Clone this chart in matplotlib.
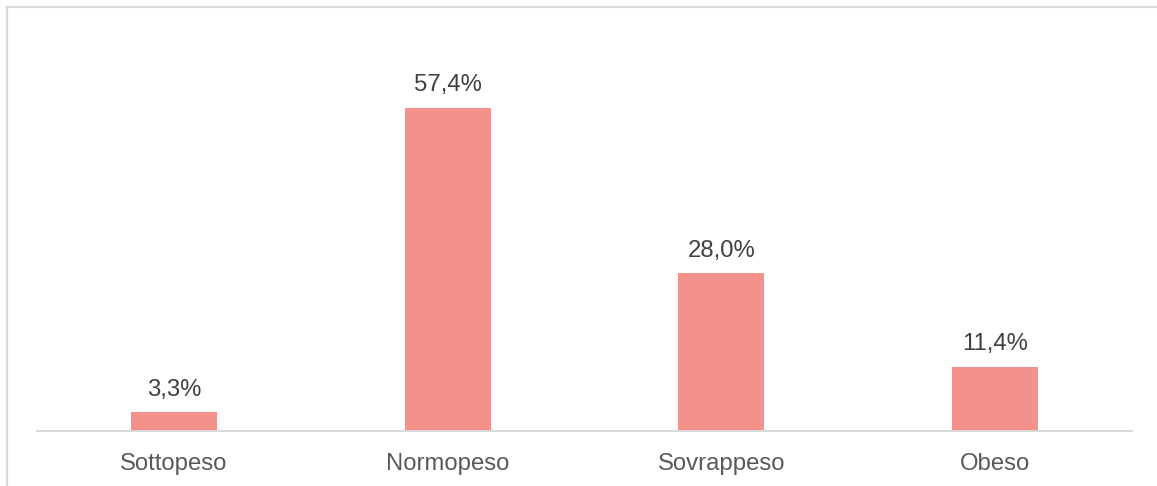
import matplotlib
import matplotlib.pyplot as plt
from matplotlib.lines import Line2D

matplotlib.use('Agg')
plt.rcParams['font.family'] = ['Liberation Sans', 'DejaVu Sans']

# BMI classes and share of people in each class (%)
categories = ['Sottopeso', 'Normopeso', 'Sovrappeso', 'Obeso']
values = [3.3, 57.4, 28.0, 11.4]

W, H = 1157, 486
fig = plt.figure(figsize=(W / 100, H / 100), dpi=100)
fig.patch.set_facecolor('white')

# chart-area frame, only its top and left edges fall inside the image
frame_kw = dict(color='#D9D9D9', linewidth=1.6, transform=fig.transFigure)
fig.add_artist(Line2D([7 / W, 1.01], [1 - 7 / H, 1 - 7 / H], **frame_kw))
fig.add_artist(Line2D([7 / W, 7 / W], [-0.01, 1 - 7 / H], **frame_kw))

ax = fig.add_axes([37 / W, 1 - 431 / H, (1132 - 37) / W, (431 - 37) / H])
x = range(len(categories))
bars = ax.bar(x, values, width=0.314, color='#F3918A', zorder=2)

ax.set_xlim(-0.5, len(categories) - 0.5)
ax.set_ylim(0, 70)
ax.set_yticks([])
ax.set_xticks(list(x))
ax.set_xticklabels(categories, fontsize=17.2, color='#595959')
ax.tick_params(axis='x', length=0, pad=15.5)

for side in ['top', 'right', 'left']:
    ax.spines[side].set_visible(False)
ax.spines['bottom'].set_color('#D9D9D9')
ax.spines['bottom'].set_linewidth(1.4)

for b, v in zip(bars, values):
    label = f'{v:.1f}%'.replace('.', ',')
    ax.annotate(label, (b.get_x() + b.get_width() / 2, v),
                xytext=(0, 8.5), textcoords='offset points',
                ha='center', va='bottom', fontsize=17.2, color='#404040')

plt.savefig('out.png', dpi=100, facecolor=fig.get_facecolor())
plt.close()
